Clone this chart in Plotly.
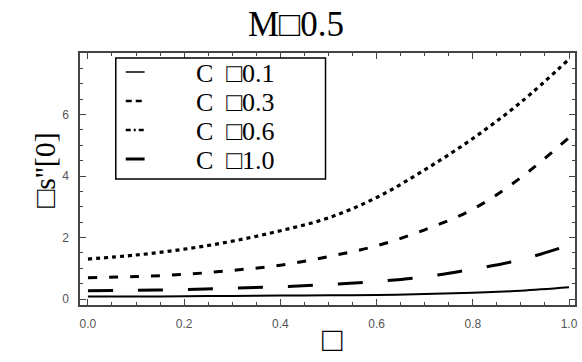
import plotly.graph_objects as go

x_vals = [0.0, 0.1, 0.2, 0.3, 0.4, 0.5, 0.6, 0.7, 0.8, 0.9, 1.0]
c01 = [0.08, 0.08, 0.09, 0.10, 0.11, 0.12, 0.13, 0.16, 0.20, 0.27, 0.38]
c03 = [0.69, 0.73, 0.80, 0.93, 1.10, 1.38, 1.73, 2.25, 2.92, 3.95, 5.25]
c06 = [1.30, 1.43, 1.62, 1.88, 2.22, 2.64, 3.30, 4.20, 5.22, 6.40, 7.80]
c10 = [0.27, 0.28, 0.31, 0.35, 0.40, 0.47, 0.57, 0.72, 0.97, 1.28, 1.75]
series_names = ["C\u00a0\u00a0\u25a10.1", "C\u00a0\u00a0\u25a10.3", "C\u00a0\u00a0\u25a10.6", "C\u00a0\u00a0\u25a11.0"]
x_ticks = [0.0, 0.2, 0.4, 0.6, 0.8, 1.0]
x_tick_text = ["0.0", "0.2", "0.4", "0.6", "0.8", "1.0"]
y_ticks = [0, 2, 4, 6]
y_tick_text = ["0", "2", "4", "6"]

styles = [
    dict(dash="solid", width=2.0),
    dict(dash="9px,12px", width=3),
    dict(dash="4px,4px", width=3.2),
    dict(dash="25px,25px", width=3),
]
legend_dash = ["solid", "6px,4px", "5px,3px,2px,3px", "solid"]
legend_width = [1.5, 2.5, 2.5, 3]

W, H = 582, 362
L, R, T, B = 80, 4, 53, 57
pw, ph = W - L - R, H - T - B

def px_x(p):
    return (p - L) / pw

def px_y(p):
    return (H - B - p) / ph

fig = go.Figure()
for name, ys, st in zip(series_names, [c01, c03, c06, c10], styles):
    fig.add_trace(go.Scatter(
        x=x_vals, y=ys, mode="lines", name=name, line_shape="spline",
        line=dict(color="black", width=st["width"], dash=st["dash"]),
        showlegend=False,
    ))

axis_common = dict(
    showline=True, linecolor="#444", linewidth=1.5, mirror="ticks",
    ticks="inside", ticklen=6, tickwidth=1.2, tickcolor="#444",
    showgrid=False, zeroline=False,
    tickfont=dict(family="Liberation Sans, Arial, sans-serif", size=12, color="#555"),
    ticklabelstandoff=7,
)

fig.update_layout(
    width=W, height=H,
    margin=dict(l=L, r=R, t=T, b=B),
    paper_bgcolor="white", plot_bgcolor="white",
    title=dict(text="M\u25a10.5", x=296 / W, xanchor="center", y=1 - 24 / H, yanchor="middle",
               font=dict(family="Liberation Serif, Times New Roman, serif", size=35, color="black")),
    xaxis=dict(range=[-0.0165, 1.0124], tickvals=x_ticks, ticktext=x_tick_text,
               minor=dict(dtick=0.05, ticks="inside", ticklen=3, tickcolor="#444", tickwidth=1),
               **axis_common),
    yaxis=dict(range=[-0.195, 8.0], tickvals=y_ticks, ticktext=y_tick_text,
               minor=dict(dtick=0.5, ticks="inside", ticklen=3, tickcolor="#444", tickwidth=1),
               **axis_common),
    showlegend=False,
)

# legend box
fig.add_shape(type="rect", xref="paper", yref="paper",
              x0=px_x(116), x1=px_x(327), y0=px_y(179), y1=px_y(58),
              line=dict(color="black", width=1.5), fillcolor="white", layer="above")
row_y = [72, 101, 130, 159]
for i, name in enumerate(series_names):
    fig.add_shape(type="line", xref="paper", yref="paper",
                  x0=px_x(126), x1=px_x(145), y0=px_y(row_y[i]), y1=px_y(row_y[i]),
                  line=dict(color="black", width=legend_width[i], dash=legend_dash[i]), layer="above")
    fig.add_annotation(text=name, xref="paper", yref="paper",
                       x=px_x(195), y=px_y(row_y[i] + 1), xanchor="left", yanchor="middle",
                       showarrow=False,
                       font=dict(family="Liberation Serif, Times New Roman, serif", size=26, color="black"))

fig.add_annotation(text="\u25a1s''[0]", xref="paper", yref="paper",
                   x=px_x(25), y=px_y(170), textangle=-90, showarrow=False,
                   font=dict(family="Liberation Serif, Times New Roman, serif", size=30, color="black"))
fig.add_annotation(text="\u25a1", xref="paper", yref="paper",
                   x=px_x(334), y=px_y(360), showarrow=False,
                   font=dict(family="Liberation Serif, Times New Roman, serif", size=34, color="black"))

fig.write_html("out.html")
